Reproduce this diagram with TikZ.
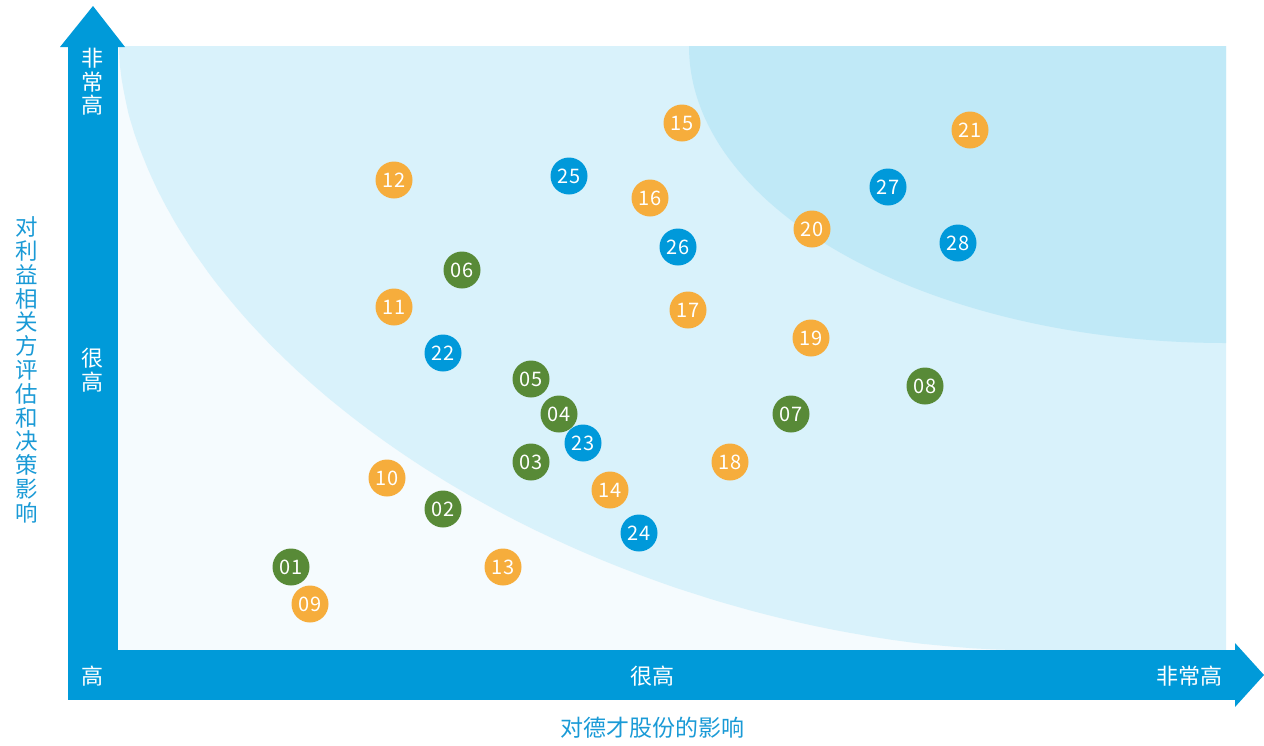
\documentclass[tikz,border=0pt]{standalone}
\usepackage{fontspec}
\setmainfont{Noto Sans CJK SC}
\definecolor{barblue}{HTML}{009AD9}
\definecolor{txtblue}{HTML}{1A9AD6}
\definecolor{zoneL}{HTML}{F5FBFE}
\definecolor{zoneM}{HTML}{D9F2FB}
\definecolor{zoneD}{HTML}{C0E9F7}
\definecolor{cor}{HTML}{F6AD3C}
\definecolor{cgr}{HTML}{588A37}
\definecolor{cbl}{HTML}{0099DA}
\tikzset{
  bub/.style={circle, minimum size=37pt, inner sep=0pt, text=white, font=\fontsize{20}{20}\selectfont},
  obub/.style={bub, fill=cor},
  gbub/.style={bub, fill=cgr},
  bbub/.style={bub, fill=cbl},
  barlbl/.style={text=white, font=\fontsize{22}{23.5}\selectfont, align=center, inner sep=0pt},
  axtitle/.style={text=txtblue, inner sep=0pt, align=center}
}
\begin{document}
\begin{tikzpicture}[x=1pt,y=-1pt]
\useasboundingbox (0,0) rectangle (1264,745);
% zones
\fill[zoneL] (118,46) rectangle (1226,650);
\fill[zoneM] (119,46) -- plot[domain=0.3:89.7, samples=120, variable=\t] ({1022-903*pow(cos(\t),1.111)}, {46+604*pow(sin(\t),1.111)}) -- (1022,650) -- (1226,650) -- (1226,46) -- cycle;
\begin{scope}
\clip (118,46) rectangle (1226,650);
\fill[zoneD] (1226,46) ellipse [x radius=537pt, y radius=297pt];
\end{scope}
% axes
\fill[barblue] (68,47) rectangle (118,700);
\fill[barblue] (60,47) -- (93,6) -- (125,47) -- cycle;
\fill[barblue] (68,650) rectangle (1235,700);
\fill[barblue] (1235,643) -- (1264,675) -- (1235,707) -- cycle;
% axis labels
\node[barlbl] (yvh) at (92.5,82) {非\\常\\高};
\node[barlbl] (yh) at (92.5,370) {很\\高};
\node[barlbl] (xl) at (92.5,676) {高};
\node[barlbl] (xh) at (652,676) {很高};
\node[barlbl] (xvh) at (1189,676) {非常高};
\node[axtitle, font=\fontsize{22.5}{23.8}\selectfont] (ytitle) at (27,370) {对\\利\\益\\相\\关\\方\\评\\估\\和\\决\\策\\影\\响};
\node[axtitle, font=\fontsize{23}{24}\selectfont] (xtitle) at (652,728) {对德才股份的影响};
% bubbles
\node[gbub] (n01) at (291,567) {01};
\node[gbub] (n02) at (443,509) {02};
\node[gbub] (n03) at (531,462) {03};
\node[gbub] (n04) at (559,414) {04};
\node[gbub] (n05) at (531,379) {05};
\node[gbub] (n06) at (462,270) {06};
\node[gbub] (n07) at (791,414) {07};
\node[gbub] (n08) at (925,386) {08};
\node[obub] (n09) at (310,604) {09};
\node[obub] (n10) at (387,478) {10};
\node[obub] (n11) at (394,307) {11};
\node[obub] (n12) at (394,180) {12};
\node[obub] (n13) at (503,567) {13};
\node[obub] (n14) at (610,490) {14};
\node[obub] (n15) at (682,123) {15};
\node[obub] (n16) at (650,198) {16};
\node[obub] (n17) at (688,310) {17};
\node[obub] (n18) at (730,462) {18};
\node[obub] (n19) at (811,338) {19};
\node[obub] (n20) at (812,229) {20};
\node[obub] (n21) at (970,130) {21};
\node[bbub] (n22) at (443,353) {22};
\node[bbub] (n23) at (583,443) {23};
\node[bbub] (n24) at (639,533) {24};
\node[bbub] (n25) at (569,176) {25};
\node[bbub] (n26) at (678,247) {26};
\node[bbub] (n27) at (888,187) {27};
\node[bbub] (n28) at (958,243) {28};
\end{tikzpicture}
\end{document}
